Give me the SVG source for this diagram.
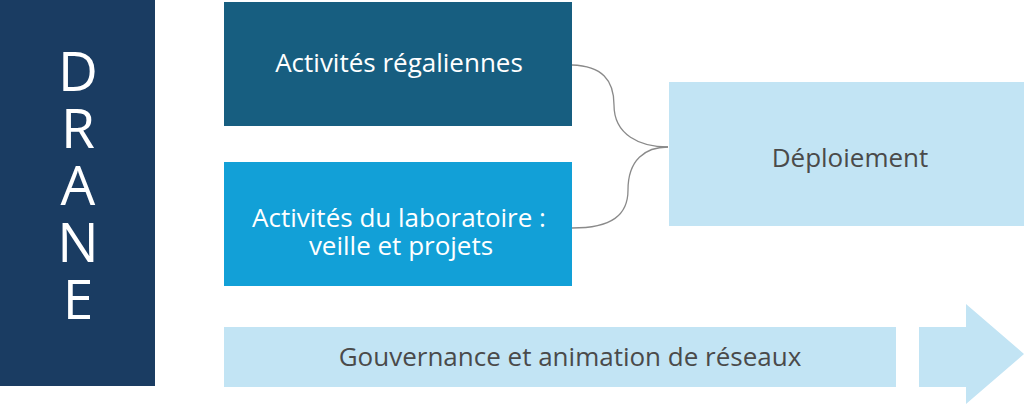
<svg xmlns="http://www.w3.org/2000/svg" width="1024" height="405" viewBox="0 0 1024 405">
<style>
.lbl{font-family:"Open Sans",Lato,"Liberation Sans",sans-serif;font-size:26px;text-anchor:middle}
.w{fill:#ffffff}
.d{fill:#4a4a4a}
.big{font-family:"Open Sans",Lato,"Liberation Sans",sans-serif;font-size:55px;font-weight:500;fill:#ffffff;writing-mode:vertical-rl;text-orientation:upright;letter-spacing:-18px}
.conn{fill:none;stroke:#8a8a8a;stroke-width:1.3}
.light{fill:#c2e4f4}
</style>
<rect width="1024" height="405" fill="#ffffff"/>
<g id="drane">
<rect x="0" y="0" width="155" height="386" fill="#1a3c62"/>
<text class="big" x="78" y="32">DRANE</text>
</g>
<g id="regaliennes">
<rect x="224" y="2" width="348" height="124" fill="#175e80"/>
<text class="lbl w" x="399" y="72">Activités régaliennes</text>
</g>
<g id="laboratoire">
<rect x="224" y="162" width="348" height="124" fill="#12a0d7"/>
<text class="lbl w"><tspan x="399" y="227">Activités du laboratoire :</tspan><tspan x="401" y="255">veille et projets</tspan></text>
</g>
<g id="deploiement">
<rect class="light" x="669" y="82" width="355" height="144"/>
<text class="lbl d" x="850" y="167">Déploiement</text>
</g>
<g id="gouvernance">
<rect class="light" x="224" y="327" width="672" height="60"/>
<text class="lbl d" x="570" y="366">Gouvernance et animation de réseaux</text>
<polygon class="light" points="919,327 966,327 966,304 1024,354 966,404 966,387 919,387"/>
</g>
<g id="connectors">
<path class="conn" d="M572,65 C602,66 614,80 614,105 C614,135 640,147 668,147"/>
<path class="conn" d="M572,228 C612,228 628,215 628,190 C628,160 645,147 668,147"/>
</g>
</svg>
